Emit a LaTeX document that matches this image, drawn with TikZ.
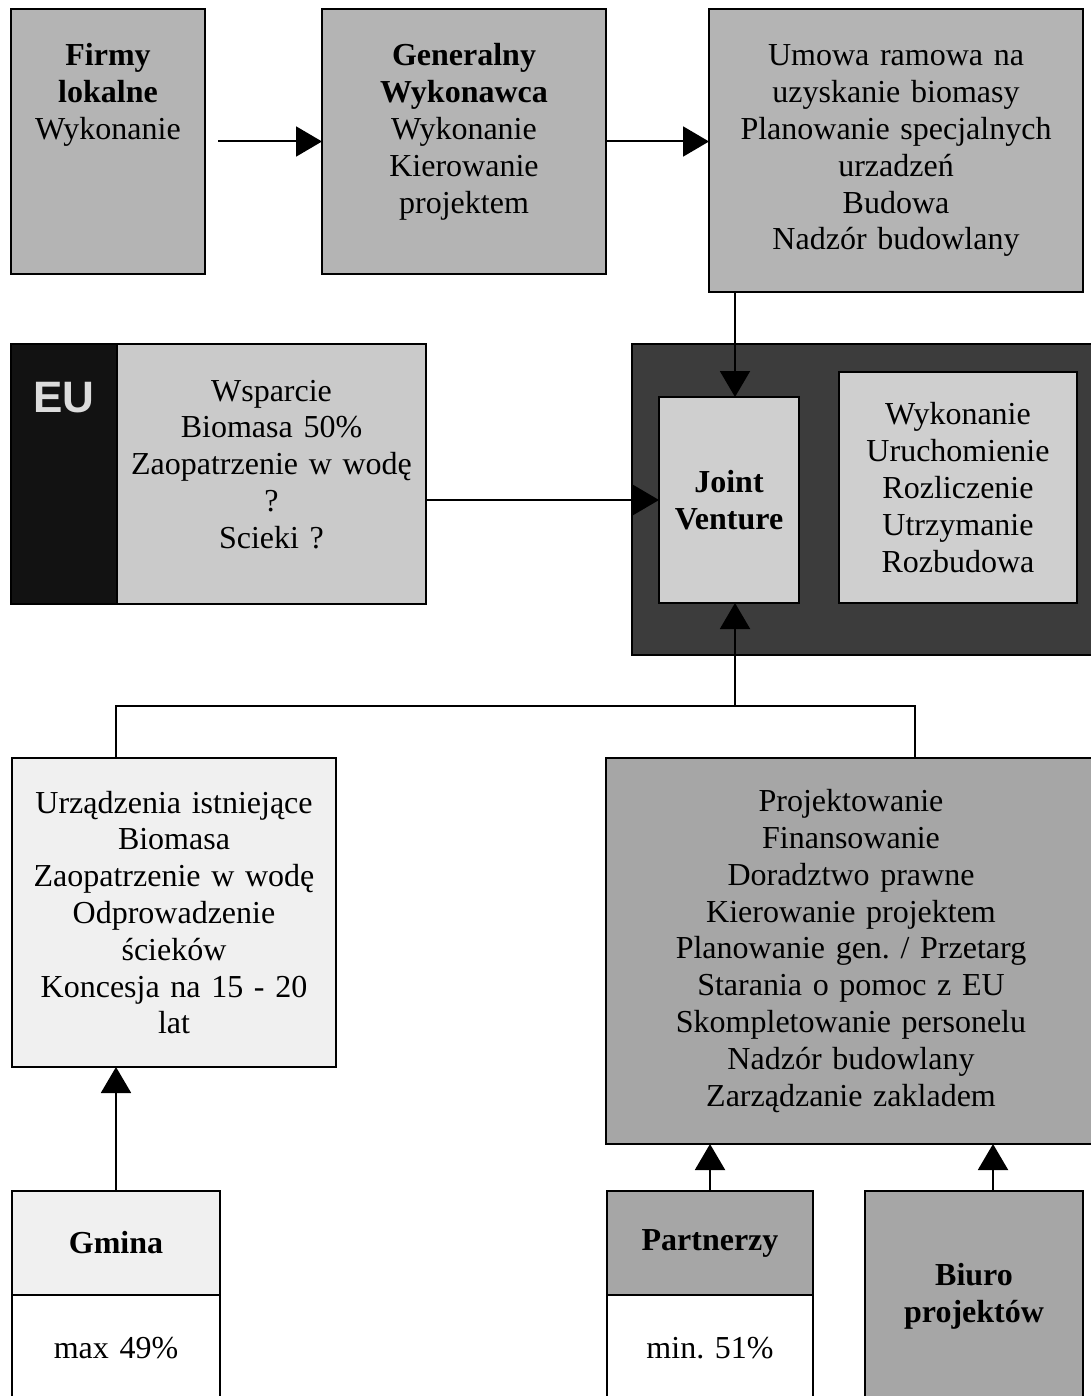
\documentclass[tikz,border=0pt]{standalone}
\usepackage{fontspec}
\setmainfont{Liberation Serif}
\newfontfamily\eufont{Liberation Sans}
\usetikzlibrary{arrows.meta,positioning}
\frenchspacing
\definecolor{midgray}{RGB}{180,180,180}
\definecolor{projgray}{RGB}{166,166,166}
\definecolor{eugray}{RGB}{202,202,202}
\definecolor{jvgray}{RGB}{207,207,207}
\definecolor{jvdark}{RGB}{60,60,60}
\definecolor{eublack}{RGB}{18,18,18}
\definecolor{eutext}{RGB}{220,220,220}
\definecolor{palegray}{RGB}{240,240,240}

\tikzset{
  blk/.style={draw,line width=1.3pt,fill=midgray,align=center,inner sep=0pt,outer sep=0pt,anchor=north west,font=\fontsize{16}{18.4}\selectfont},
  topblk/.style={inner ysep=14.5pt,text height=14pt},
  arr/.style={-{Triangle[length=13pt,width=15pt]},line width=1pt},
  conn/.style={line width=1pt},
}

\begin{document}
\begin{tikzpicture}[x=0.5pt,y=-0.5pt]
\useasboundingbox (0,0) rectangle (1091,1396);
\clip (0,0) rectangle (1091,1396);

% top row
\node(firmy)[blk,topblk,text width=97pt,text depth=89.5pt] at (11,9) {\textbf{Firmy}\\\textbf{lokalne}\\Wykonanie};
\node(generalny)[blk,topblk,text width=142pt,text depth=89.5pt] at (322,9) {\textbf{Generalny}\\\textbf{Wykonawca}\\Wykonanie\\Kierowanie\\projektem};
\node(umowa)[blk,topblk,text width=187pt,text depth=98.5pt] at (709,9) {Umowa ramowa na\\uzyskanie biomasy\\Planowanie specjalnych\\urzadzeń\\Budowa\\Nadzór budowlany};

% EU
\node(eutag)[blk,fill=eublack,inner ysep=14.5pt,text height=19.5pt,text depth=81.5pt,text width=53pt,text=eutext,font=\eufont\bfseries\fontsize{22}{24}\selectfont] at (11,344) {EU};
\node(eu)[blk,topblk,fill=eugray,text width=154.5pt,text depth=87pt,right=0pt of eutag] {Wsparcie\\Biomasa 50\%\\Zaopatrzenie w wodę\\?\\Scieki ?};

% joint venture
\node(jvbg)[blk,fill=jvdark,minimum width=244pt,minimum height=155.5pt] at (632,344) {};
\node(jv)[blk,fill=jvgray,text width=70pt,minimum height=103pt] at (659,397) {\textbf{Joint}\\\textbf{Venture}};
\node(zadania)[blk,fill=jvgray,text width=119pt,minimum height=115.5pt] at (839,372) {Wykonanie\\Uruchomienie\\Rozliczenie\\Utrzymanie\\Rozbudowa};

% middle row
\node(urz)[blk,fill=palegray,text width=162pt,minimum height=154.5pt] at (12,758) {Urządzenia istniejące\\Biomasa\\Zaopatrzenie w wodę\\Odprowadzenie\\ścieków\\Koncesja na 15 - 20\\lat};
\node(proj)[blk,fill=projgray,text width=245pt,minimum height=193pt] at (606,758) {Projektowanie\\Finansowanie\\Doradztwo prawne\\Kierowanie projektem\\Planowanie gen. / Przetarg\\Starania o pomoc z EU\\Skompletowanie personelu\\Nadzór budowlany\\Zarządzanie zakladem};

% bottom row
\node(gmina)[blk,fill=palegray,text width=104pt,minimum height=52pt] at (12,1191) {\textbf{Gmina}};
\node(gminapct)[blk,fill=white,text width=104pt,minimum height=53pt,below=0pt of gmina] {max 49\%};
\node(partnerzy)[blk,fill=projgray,text width=103pt,minimum height=52pt] at (607,1191) {\textbf{Partnerzy}};
\node(partnerzypct)[blk,fill=white,text width=103pt,minimum height=53pt,below=0pt of partnerzy] {min. 51\%};
\node(biuro)[blk,fill=projgray,text width=109pt,minimum height=105pt] at (865,1191) {\textbf{Biuro}\\\textbf{projektów}};

\coordinate(jvtop) at ([xshift=3pt]jv.north);
\coordinate(jvbot) at ([xshift=3pt]jv.south);
\coordinate(split) at ([yshift=26pt]urz.north);
\coordinate(projin) at ([xshift=32pt]proj.north);
\coordinate(biuroout) at ([xshift=9.5pt]biuro.north);

\draw[arr,shorten <=6.5pt] (firmy.east) -- (generalny.west);
\draw[arr] (generalny.east) -- (generalny.east -| umowa.west);
\draw[arr] (umowa.south -| jvtop) -- (jvtop);
\draw[arr] (jv.west -| eu.east) -- (jv.west);

\draw[conn] (urz.north -| gmina.north) -- (split -| gmina.north) -| (projin);
\draw[arr] (jvbot |- split) -- (jvbot);

\draw[arr] (gmina.north) -- (gmina.north |- urz.south);
\draw[arr] (partnerzy.north) -- (partnerzy.north |- proj.south);
\draw[arr] (biuroout) -- (biuroout |- proj.south);

\end{tikzpicture}
\end{document}
